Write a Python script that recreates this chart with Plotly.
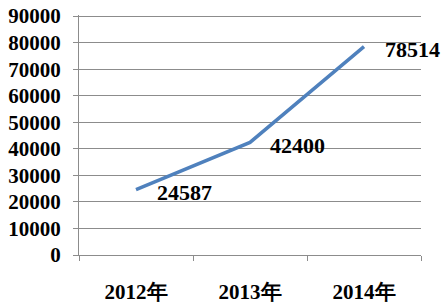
import plotly.graph_objects as go

categories = ["2012年", "2013年", "2014年"]
values = [24587, 42400, 78514]
labels = ["24587", "42400", "78514"]
y_ticks = [0, 10000, 20000, 30000, 40000, 50000, 60000, 70000, 80000, 90000]

font_fam = "Liberation Serif, Times New Roman, serif"

fig = go.Figure()
fig.add_trace(go.Scatter(
    x=categories, y=values, mode="lines",
    line=dict(color="#4F81BD", width=3.5),
    hoverinfo="skip", showlegend=False, cliponaxis=False,
))

shifts = [(19, -3), (18, -3), (19, -3)]
for c, v, t, (dx, dy) in zip(categories, values, labels, shifts):
    fig.add_annotation(
        x=c, y=v, text="<b>%s</b>" % t, showarrow=False,
        xanchor="left", yanchor="middle", xshift=dx, yshift=dy,
        font=dict(family=font_fam, size=22, color="black", weight="bold"),
    )

fig.update_layout(
    width=443, height=305,
    margin=dict(l=79, r=22, t=15, b=50, autoexpand=False),
    paper_bgcolor="white", plot_bgcolor="white",
    font=dict(family=font_fam, size=21, color="black"),
)
fig.update_xaxes(
    type="category", range=[-0.5, 2.5], automargin=False,
    showline=True, linecolor="#8c8c8c", linewidth=1,
    ticks="outside", ticklen=5, tickcolor="#8c8c8c", tickson="boundaries",
    showgrid=False, ticklabelstandoff=18,
    tickfont=dict(family=font_fam, size=21, color="black", weight="bold"),
)
fig.update_yaxes(
    range=[0, 90400], tickvals=y_ticks, ticktext=[str(t) for t in y_ticks],
    automargin=False,
    showline=True, linecolor="#8c8c8c", linewidth=1,
    ticks="outside", ticklen=5, tickcolor="#8c8c8c",
    showgrid=True, gridcolor="#8c8c8c", gridwidth=1, zeroline=False,
    ticklabelstandoff=8,
    tickfont=dict(family=font_fam, size=21, color="black", weight="bold"),
)

fig.write_html("out.html", config={"displayModeBar": False},
               post_script="document.body.style.margin='0';")
